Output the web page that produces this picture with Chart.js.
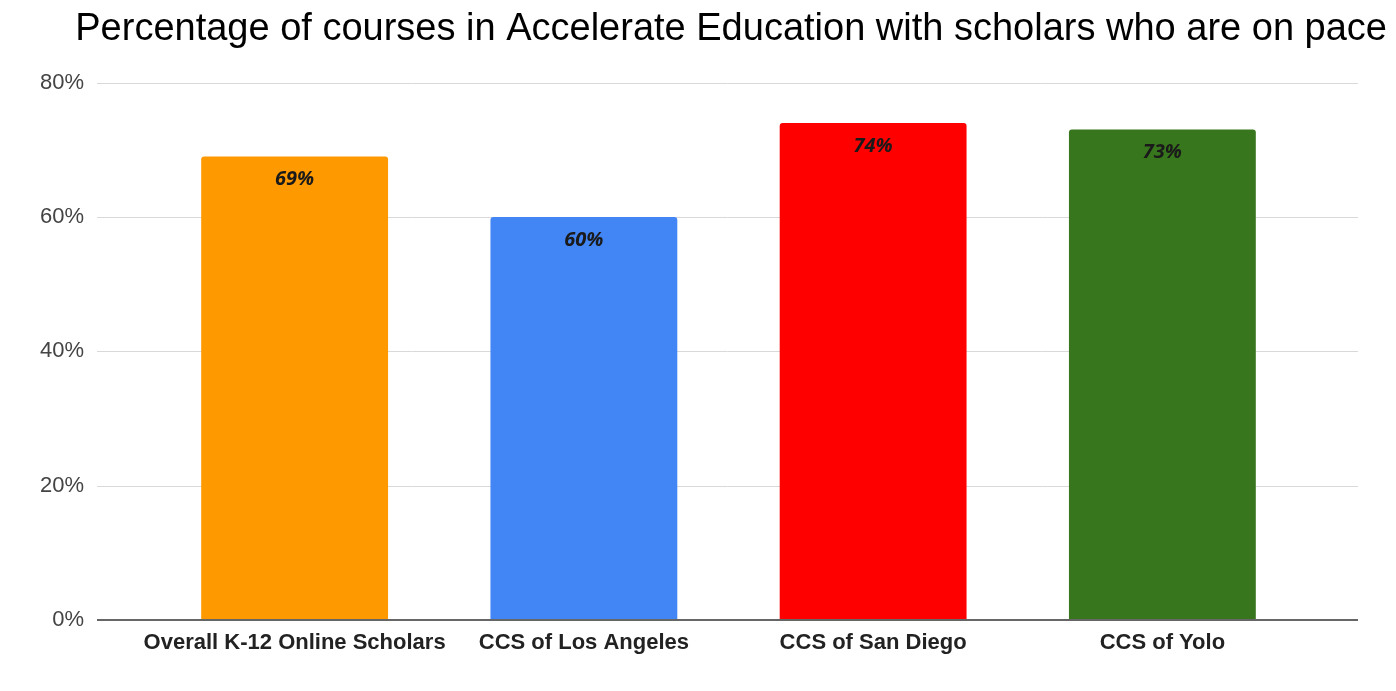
<!DOCTYPE html>
<html>
<script src="https://cdn.jsdelivr.net/npm/chart.js@4.4.1/dist/chart.umd.min.js"></script>
<body style="margin:0;background:#fff">

<div style="width:1396px;height:691px"><canvas id="paceChart"></canvas></div>

<script>
var schools = ["Overall K-12 Online Scholars", "CCS of Los Angeles", "CCS of San Diego", "CCS of Yolo"];
var onPace = [69, 60, 74, 73];
var barColors = ["#ff9900", "#4285f4", "#ff0000", "#38761d"];
var yMax = 80;
var yStep = 20;

// google-style gridlines run past the bars on both sides
var sheetGrid = {
  id: "sheetGrid",
  beforeDatasetsDraw: function(chart) {
    var ctx = chart.ctx, y = chart.scales.y, area = chart.chartArea;
    ctx.save();
    ctx.strokeStyle = "#d9d9d9";
    ctx.lineWidth = 1;
    y.ticks.forEach(function(t) {
      if (t.value === 0) return;
      var py = Math.round(y.getPixelForValue(t.value)) + 0.5;
      ctx.beginPath();
      ctx.moveTo(area.left - 53, py);
      ctx.lineTo(area.right + 51, py);
      ctx.stroke();
    });
    ctx.restore();
  },
  afterDatasetsDraw: function(chart) {
    var ctx = chart.ctx, y = chart.scales.y, area = chart.chartArea;
    ctx.save();
    ctx.strokeStyle = "#666";
    ctx.lineWidth = 2;
    var py = Math.round(y.getPixelForValue(0));
    ctx.beginPath();
    ctx.moveTo(area.left - 53, py);
    ctx.lineTo(area.right + 51, py);
    ctx.stroke();

    // value labels inside top of each bar
    ctx.fillStyle = "#1a1a1a";
    ctx.font = "italic bold 20px 'Open Sans', 'Noto Sans', sans-serif";
    ctx.textAlign = "center";
    ctx.textBaseline = "middle";
    chart.getDatasetMeta(0).data.forEach(function(bar, i) {
      ctx.fillText(onPace[i] + "%", bar.x, bar.y + 23);
    });
    ctx.restore();
  }
};

new Chart("paceChart", {
  type: "bar",
  data: {
    labels: schools,
    datasets: [{
      data: onPace,
      backgroundColor: barColors,
      borderRadius: 3,
      barPercentage: 0.646,
      categoryPercentage: 1
    }]
  },
  plugins: [sheetGrid],
  options: {
    responsive: true,
    maintainAspectRatio: false,
    animation: false,
    layout: {padding: {left: 0, right: 9, top: 0, bottom: 32}},
    plugins: {
      legend: {display: false},
      tooltip: {enabled: false},
      title: {
        display: true,
        align: "end",
        text: "Percentage of courses in Accelerate Education with scholars who are on pace",
        color: "#000",
        font: {family: "'Liberation Sans', Arial, sans-serif", size: 38, weight: "normal"},
        padding: {top: 7, bottom: 30}
      }
    },
    scales: {
      x: {
        grid: {display: false},
        border: {display: false},
        ticks: {
          color: "#222",
          padding: 2,
          autoSkip: false,
          maxRotation: 0,
          font: {family: "'Liberation Sans', Arial, sans-serif", size: 22, weight: "bold"}
        }
      },
      y: {
        min: 0,
        max: yMax,
        afterFit: function(scale) { scale.width = 150; },
        grid: {display: false},
        border: {display: false},
        ticks: {
          stepSize: yStep,
          padding: 58,
          color: "#444",
          font: {family: "'Liberation Sans', Arial, sans-serif", size: 22},
          callback: function(v) { return v + "%"; }
        }
      },
      // empty right margin
      yRight: {
        position: "right",
        afterFit: function(scale) { scale.width = 80; },
        grid: {display: false},
        border: {display: false},
        ticks: {display: false}
      }
    }
  }
});
</script>

</body>
</html>
